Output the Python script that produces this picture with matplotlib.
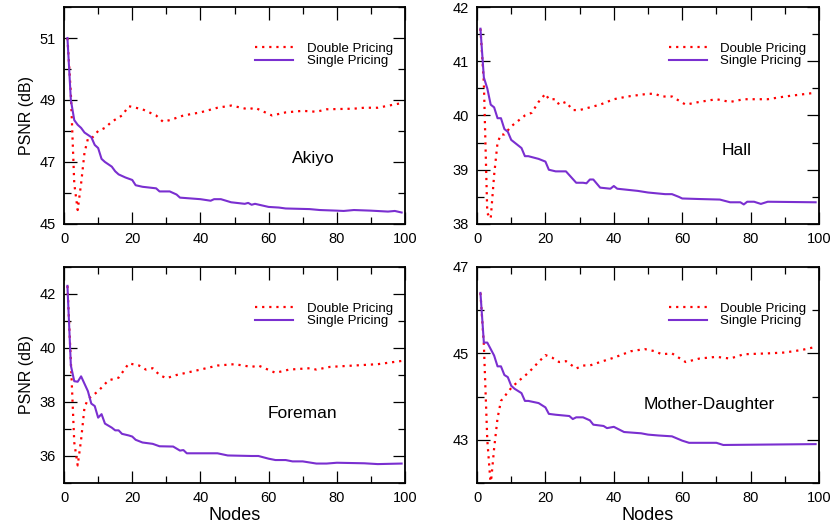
import numpy as np
import matplotlib
matplotlib.use('Agg')
from matplotlib import pyplot as plt
from matplotlib.ticker import MultipleLocator

plt.rcParams['font.family'] = ['Liberation Sans', 'DejaVu Sans']

# ---- Akiyo ----
akiyo_dbl_x = [1, 2, 3, 4, 5, 6, 7, 8, 10, 12, 14, 17, 19, 21, 23, 25, 27, 29, 31, 35, 40, 45, 49,
               52, 54, 56, 61, 65, 70, 74, 77, 85, 88, 92, 99]
akiyo_dbl_y = [51.0, 49.2, 46.3, 45.45, 46.3, 47.3, 47.75, 47.75, 48.0, 48.1, 48.3, 48.5, 48.8, 48.75,
               48.7, 48.6, 48.5, 48.3, 48.35, 48.5, 48.6, 48.75, 48.82, 48.75, 48.7, 48.75, 48.5,
               48.6, 48.65, 48.62, 48.7, 48.72, 48.75, 48.75, 48.9]
akiyo_sgl_x = [1, 2, 3, 4, 5, 6, 8, 9, 10, 11, 12, 14, 15, 16, 18, 20, 21, 23, 27, 28, 31, 33, 34,
               40, 43, 44, 46, 49, 53, 54, 55, 56, 58, 60, 63, 65, 72, 75, 80, 82, 85, 90, 95, 97, 99]
akiyo_sgl_y = [51.0, 49.0, 48.35, 48.2, 48.1, 47.95, 47.8, 47.55, 47.45, 47.1, 47.0, 46.85, 46.7,
               46.6, 46.5, 46.42, 46.25, 46.2, 46.15, 46.05, 46.05, 45.95, 45.85, 45.8, 45.75, 45.8,
               45.8, 45.7, 45.65, 45.68, 45.62, 45.65, 45.6, 45.55, 45.53, 45.5, 45.48, 45.45, 45.43,
               45.42, 45.45, 45.43, 45.4, 45.42, 45.37]

# ---- Hall ----
hall_dbl_x = [1, 2, 3, 4, 5, 6, 7, 8, 10, 12, 14, 16, 18, 20, 21, 23, 24, 26, 28, 30, 33, 36, 40,
              44, 50, 52, 54, 57, 61, 65, 70, 74, 78, 85, 90, 99]
hall_dbl_y = [41.6, 40.6, 38.2, 38.1, 38.9, 39.5, 39.65, 39.65, 39.8, 39.9, 40.0, 40.05, 40.25,
              40.4, 40.3, 40.3, 40.2, 40.25, 40.1, 40.1, 40.15, 40.2, 40.3, 40.35, 40.4, 40.4,
              40.35, 40.35, 40.2, 40.25, 40.3, 40.25, 40.3, 40.3, 40.35, 40.42]
hall_sgl_x = [1, 2, 3, 4, 5, 6, 7, 8, 9, 10, 12, 13, 14, 15, 18, 20, 21, 23, 26, 27, 29, 31, 32, 33,
              34, 36, 39, 40, 41, 47, 50, 55, 57, 59, 60, 65, 71, 74, 77, 78, 79, 81, 83, 85, 99]
hall_sgl_y = [41.6, 40.7, 40.5, 40.2, 40.15, 39.95, 39.95, 39.75, 39.7, 39.55, 39.45, 39.4, 39.25,
              39.25, 39.2, 39.15, 39.0, 38.97, 38.97, 38.9, 38.76, 38.76, 38.75, 38.82, 38.82, 38.67,
              38.65, 38.7, 38.65, 38.61, 38.58, 38.55, 38.55, 38.5, 38.47, 38.46, 38.45, 38.4,
              38.4, 38.36, 38.41, 38.41, 38.37, 38.41, 38.4]

# ---- Foreman ----
fore_dbl_x = [1, 2, 3, 4, 5, 6, 7, 8, 10, 13, 16, 19, 22, 24, 26, 28, 30, 33, 40, 45, 50, 55, 57,
              62, 66, 72, 74, 78, 85, 92, 99]
fore_dbl_y = [42.3, 39.5, 36.5, 35.65, 36.6, 37.8, 38.1, 38.2, 38.4, 38.8, 38.9, 39.43, 39.35,
              39.2, 39.25, 39.0, 38.88, 39.0, 39.2, 39.35, 39.4, 39.3, 39.35, 39.08, 39.2, 39.25,
              39.2, 39.3, 39.35, 39.4, 39.52]
fore_sgl_x = [1, 2, 3, 4, 5, 7, 8, 9, 10, 11, 12, 14, 15, 16, 17, 19, 20, 21, 23, 26, 28, 32, 34,
              35, 36, 40, 45, 48, 55, 57, 60, 62, 65, 67, 70, 74, 77, 80, 88, 92, 99]
fore_sgl_y = [42.3, 39.35, 38.77, 38.75, 38.95, 38.4, 37.94, 37.85, 37.42, 37.55, 37.2, 37.05,
              36.95, 36.95, 36.82, 36.76, 36.72, 36.6, 36.5, 36.45, 36.36, 36.35, 36.2, 36.22,
              36.1, 36.1, 36.1, 36.02, 36.0, 36.0, 35.9, 35.85, 35.85, 35.8, 35.8, 35.72, 35.72,
              35.75, 35.73, 35.7, 35.72]

# ---- Mother-Daughter ----
md_dbl_x = [1, 2, 3, 4, 5, 6, 7, 8, 10, 12, 15, 18, 20, 22, 24, 26, 29, 31, 33, 36, 40, 45, 49,
            52, 54, 57, 61, 65, 70, 74, 78, 85, 90, 95, 99]
md_dbl_y = [46.4, 45.2, 43.0, 41.95, 42.8, 43.5, 43.9, 44.0, 44.2, 44.35, 44.55, 44.8, 44.96,
            44.9, 44.8, 44.82, 44.65, 44.72, 44.72, 44.8, 44.9, 45.05, 45.1, 45.05, 44.98, 45.0,
            44.8, 44.88, 44.92, 44.88, 44.98, 45.0, 45.02, 45.08, 45.15]
md_sgl_x = [1, 2, 3, 4, 5, 6, 7, 8, 9, 10, 11, 13, 14, 15, 18, 20, 21, 23, 27, 28, 29, 31, 33, 34,
            37, 38, 40, 42, 43, 48, 50, 53, 57, 60, 62, 70, 72, 99]
md_sgl_y = [46.4, 45.25, 45.25, 45.1, 44.95, 44.7, 44.7, 44.5, 44.45, 44.25, 44.18, 44.08, 43.9,
            43.9, 43.85, 43.75, 43.6, 43.58, 43.55, 43.48, 43.52, 43.52, 43.45, 43.35, 43.32,
            43.27, 43.3, 43.22, 43.18, 43.15, 43.12, 43.1, 43.08, 42.98, 42.93, 42.93, 42.88, 42.9]

panels = [
    ('Akiyo', akiyo_dbl_x, akiyo_dbl_y, akiyo_sgl_x, akiyo_sgl_y, (45, 52), 45, 2, (0.73, 0.30)),
    ('Hall', hall_dbl_x, hall_dbl_y, hall_sgl_x, hall_sgl_y, (38, 42), 38, 1, (0.76, 0.34)),
    ('Foreman', fore_dbl_x, fore_dbl_y, fore_sgl_x, fore_sgl_y, (35, 43), 36, 2, (0.70, 0.32)),
    ('Mother-Daughter', md_dbl_x, md_dbl_y, md_sgl_x, md_sgl_y, (42, 47), 43, 2, (0.68, 0.365)),
]

fig = plt.figure(figsize=(8.36, 5.27), dpi=100)
rects = [
    [0.0766, 0.5750, 0.4079, 0.4117],
    [0.5706, 0.5750, 0.4091, 0.4117],
    [0.0766, 0.0835, 0.4079, 0.4099],
    [0.5706, 0.0835, 0.4091, 0.4099],
]

for i, (name, dx, dy, sx, sy, ylim, ystart, ystep, txt) in enumerate(panels):
    ax = fig.add_axes(rects[i])
    ax.plot(dx, dy, color='red', linestyle=(0, (1, 2.2)), linewidth=1.6,
            label='Double Pricing')
    ax.plot(sx, sy, color='#7a2fd0', linewidth=1.5, label='Single Pricing')
    ax.set_xlim(0, 100)
    ax.set_ylim(*ylim)
    ax.xaxis.set_major_locator(MultipleLocator(20))
    ax.xaxis.set_minor_locator(MultipleLocator(10))
    ax.set_yticks(np.arange(ystart, ylim[1] + 0.01, ystep))
    ax.yaxis.set_minor_locator(MultipleLocator(ystep / 2))
    ax.tick_params(which='both', direction='in', top=True, right=True,
                   labelsize=10.5, width=0.9, pad=6)
    ax.tick_params(which='major', length=9)
    ax.tick_params(which='minor', length=5)
    for sp in ax.spines.values():
        sp.set_linewidth(1.3)
    ax.text(txt[0], txt[1], name, transform=ax.transAxes, fontsize=12.5,
            ha='center', va='center')
    ax.legend(loc='upper left', bbox_to_anchor=(0.545, 0.86), frameon=False,
              fontsize=9.5, handlelength=2.9, labelspacing=0.02,
              handletextpad=1.0, borderaxespad=0)
    if i % 2 == 0:
        ax.set_ylabel('PSNR (dB)', fontsize=11.5, labelpad=4)
    if i >= 2:
        ax.set_xlabel('Nodes', fontsize=13, labelpad=1)

fig.savefig('out.png', dpi=100)
